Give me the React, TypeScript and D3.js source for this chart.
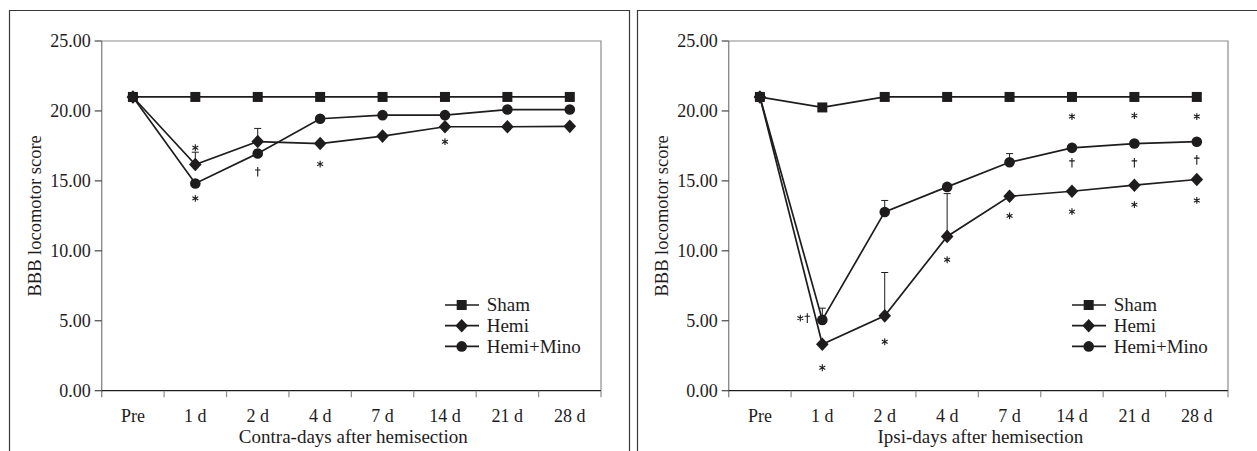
import React from 'react';
import * as d3 from 'd3';

const days = ['Pre', '1 d', '2 d', '4 d', '7 d', '14 d', '21 d', '28 d'];
const yTicks = [0, 5, 10, 15, 20, 25];
const seriesNames = ['Sham', 'Hemi', 'Hemi+Mino'];

// contra side
const contraSham = [21, 21, 21, 21, 21, 21, 21, 21];
const contraHemi = [21, 16.17, 17.81, 17.67, 18.2, 18.87, 18.87, 18.9];
const contraMino = [21, 14.81, 16.96, 19.44, 19.7, 19.7, 20.1, 20.1];
const contraErrors = [
  { day: '1 d', from: 16.17, to: 17.05 },
  { day: '2 d', from: 17.81, to: 18.75 }
];
const contraMarks = [
  { day: '1 d', v: 17.37, s: '*' },
  { day: '1 d', v: 13.75, s: '*' },
  { day: '2 d', v: 15.65, s: '†' },
  { day: '4 d', v: 16.2, s: '*' },
  { day: '14 d', v: 17.8, s: '*' }
];

// ipsi side
const ipsiSham = [21, 20.25, 21, 21, 21, 21, 21, 21];
const ipsiHemi = [21, 3.32, 5.35, 11.03, 13.9, 14.26, 14.69, 15.1];
const ipsiMino = [21, 5.06, 12.78, 14.57, 16.33, 17.36, 17.67, 17.8];
const ipsiErrors = [
  { day: '1 d', from: 5.06, to: 5.9 },
  { day: '2 d', from: 5.35, to: 8.45 },
  { day: '2 d', from: 12.78, to: 13.6 },
  { day: '4 d', from: 11.03, to: 14.09 },
  { day: '7 d', from: 16.33, to: 16.95 }
];
const ipsiMarks = [
  { day: '1 d', v: 5.19, s: '*†' },
  { day: '1 d', v: 1.64, s: '*' },
  { day: '2 d', v: 3.5, s: '*' },
  { day: '4 d', v: 9.36, s: '*' },
  { day: '7 d', v: 12.5, s: '*' },
  { day: '14 d', v: 19.6, s: '*' },
  { day: '14 d', v: 16.3, s: '†' },
  { day: '14 d', v: 12.8, s: '*' },
  { day: '21 d', v: 19.67, s: '*' },
  { day: '21 d', v: 16.3, s: '†' },
  { day: '21 d', v: 13.3, s: '*' },
  { day: '28 d', v: 19.6, s: '*' },
  { day: '28 d', v: 16.5, s: '†' },
  { day: '28 d', v: 13.6, s: '*' }
];

const font = '"Liberation Serif", "DejaVu Serif", serif';
const ink = '#1e1c1d';
const grey = '#8c8c8c';

const plotW = 499.3;
const plotH = 349.7;

const marker = (kind: number, x: number, y: number, key: string) => {
  if (kind === 0) return <rect key={key} x={x - 5} y={y - 5} width={10} height={10} fill={ink} />;
  if (kind === 1) return <path key={key} d={`M${x},${y - 6.8}L${x + 6.3},${y}L${x},${y + 6.8}L${x - 6.3},${y}Z`} fill={ink} />;
  return <circle key={key} cx={x} cy={y} r={5.3} fill={ink} />;
};

// small asterisk and dagger drawn as strokes
const star = (x: number, y: number) => {
  const r = 3.4;
  return [90, 30, 150].map(a => {
    const dx = r * Math.cos((a * Math.PI) / 180);
    const dy = r * Math.sin((a * Math.PI) / 180);
    return `M${x - dx},${y - dy}L${x + dx},${y + dy}`;
  }).join('');
};
const dagger = (x: number, y: number) => `M${x},${y - 4.8}V${y + 4.8}M${x - 2.8},${y - 1.8}H${x + 2.8}`;

const Panel = ({ left, xTitle, series, errors, marks }: any) => {
  const top = 41;
  const x = d3.scaleBand().domain(days).range([0, plotW]);
  const y = d3.scaleLinear().domain([0, 25]).range([plotH, 0]);
  const cx = (d: string) => (x(d) as number) + x.bandwidth() / 2;
  const fmt = d3.format('.2f');
  const line = d3.line<number>().x((d, i) => cx(days[i])).y(d => y(d));

  return (
    <g transform={`translate(${left},${top})`}>
      {/* frame */}
      <path d={`M0,0H${plotW}V${plotH}`} fill="none" stroke={grey} strokeWidth={1.2} />
      <line x1={0} x2={0} y1={0} y2={plotH + 6.5} stroke={grey} strokeWidth={1.4} />
      <line x1={0} x2={plotW} y1={plotH} y2={plotH} stroke={ink} strokeWidth={1.2} />
      {days.map((d, i) => (
        <line key={`xt-${i}`} x1={x.step() * (i + 1)} x2={x.step() * (i + 1)} y1={plotH} y2={plotH + 6.5} stroke={grey} strokeWidth={1.2} />
      ))}
      {days.map(d => (
        <text key={`xl-${d}`} x={cx(d)} y={plotH + 31} textAnchor="middle" fontSize={18} fill={ink}>{d}</text>
      ))}
      {yTicks.map(t => (
        <g key={`yt-${t}`}>
          <line x1={-7} x2={0} y1={y(t)} y2={y(t)} stroke="#444" strokeWidth={1.2} />
          <text x={-11} y={y(t)} dy="0.34em" textAnchor="end" fontSize={18} fill={ink}>{fmt(t)}</text>
        </g>
      ))}
      <text transform={`translate(${-67},${plotH / 2}) rotate(-90)`} textAnchor="middle" dy="0.35em" fontSize={18.5} fill={ink}>BBB locomotor score</text>
      <text x={plotW / 2 + 2} y={plotH + 52} textAnchor="middle" fontSize={19} fill={ink}>{xTitle}</text>

      {/* error bars */}
      {errors.map((e: any, i: number) => (
        <g key={`err-${i}`} stroke={ink} strokeWidth={1}>
          <line x1={cx(e.day)} x2={cx(e.day)} y1={y(e.from)} y2={y(e.to)} />
          <line x1={cx(e.day) - 3.5} x2={cx(e.day) + 3.5} y1={y(e.to)} y2={y(e.to)} />
        </g>
      ))}

      {/* lines and markers */}
      {series.map((s: number[], k: number) => (
        <path key={`line-${k}`} d={line(s) as string} fill="none" stroke={ink} strokeWidth={1.7} />
      ))}
      {series.map((s: number[], k: number) => s.map((v, i) => marker(k, cx(days[i]), y(v), `m-${k}-${i}`)))}

      {/* significance marks */}
      {marks.map((m: any, i: number) => {
        const px = cx(m.day);
        const py = y(m.v);
        let d = '';
        if (m.s === '*') d = star(px, py);
        else if (m.s === '†') d = dagger(px, py);
        else d = star(px - 22, py) + dagger(px - 15, py);
        return <path key={`sig-${i}`} d={d} fill="none" stroke={ink} strokeWidth={1.1} />;
      })}

      {/* legend */}
      {seriesNames.map((n, k) => {
        const ly = 264 + k * 20.7;
        return (
          <g key={`leg-${k}`}>
            <line x1={343.3} x2={377.3} y1={ly} y2={ly} stroke={ink} strokeWidth={1.7} />
            {marker(k, 360, ly, `lm-${k}`)}
            <text x={385} y={ly} dy="0.33em" fontSize={19} fill={ink}>{n}</text>
          </g>
        );
      })}
    </g>
  );
};

const App = () => {
  return (
    <svg width={1257} height={451} style={{ position: 'absolute', left: 0, top: 0, background: '#fff' }} fontFamily={font}>
      <rect x={0} y={0} width={1257} height={451} fill="#fff" />
      <path d="M9.5,460V10.5H629.5V460" fill="none" stroke="#3a3a3a" strokeWidth={1.2} />
      <path d="M637.5,460V10.5H1262" fill="none" stroke="#3a3a3a" strokeWidth={1.2} />
      <Panel left={101.7} xTitle="Contra-days after hemisection" series={[contraSham, contraHemi, contraMino]} errors={contraErrors} marks={contraMarks} />
      <Panel left={728.7} xTitle="Ipsi-days after hemisection" series={[ipsiSham, ipsiHemi, ipsiMino]} errors={ipsiErrors} marks={ipsiMarks} />
    </svg>
  );
};

export default App;
